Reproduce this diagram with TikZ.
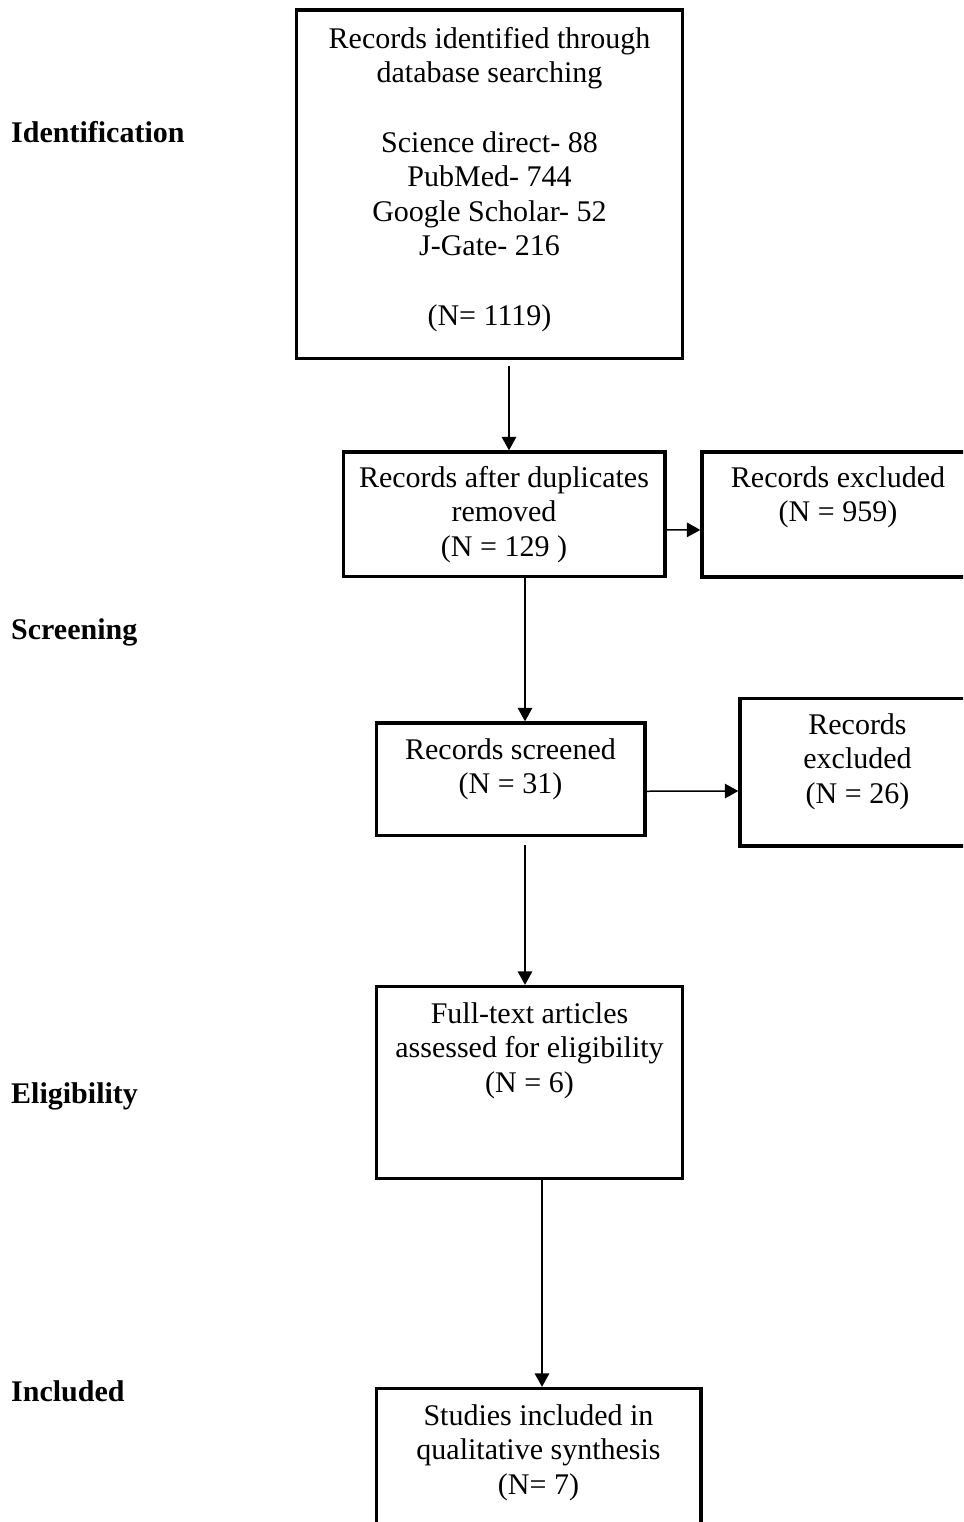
\documentclass[tikz,border=0pt]{standalone}
\usepackage{fontspec}
\setmainfont{Liberation Serif}
\usetikzlibrary{arrows.meta}

\begin{document}
\begin{tikzpicture}[x=1pt, y=-1pt,
    box/.style={draw, line width=3.3pt, inner sep=0pt},
    boxtext/.style={anchor=base, align=center, inner sep=0pt, font=\fontsize{30}{34.5}\selectfont},
    stage/.style={anchor=base west, inner sep=0pt, font=\fontsize{30}{34.5}\selectfont\bfseries},
    flow/.style={line width=1.5pt, -{Triangle[length=13.5pt, width=14.5pt]}}]
    \useasboundingbox (0,0) rectangle (963,1522);
    \clip (0,0) rectangle (963,1522);
    % stages
    \node[stage] (identification) at (11,143) {Identification};
    \node[stage] (screening) at (11,639) {Screening};
    \node[stage] (eligibility) at (11,1103) {Eligibility};
    \node[stage] (included) at (11,1401) {Included};
    % boxes
    \node[box, minimum width=386pt, minimum height=348.5pt] (records) at (489.5,184.25) {};
    \node[box, minimum width=321.5pt, minimum height=124.5pt] (duplicates) at (504.25,514.25) {};
    \node[box, minimum width=272pt, minimum height=125pt] (excludeda) at (838,514.5) {};
    \node[box, minimum width=268.5pt, minimum height=112.5pt] (screened) at (510.75,779.25) {};
    \node[box, minimum width=235pt, minimum height=147.5pt] (excludedb) at (857.5,772.25) {};
    \node[box, minimum width=306pt, minimum height=192pt] (fulltext) at (529.5,1082.5) {};
    \node[box, minimum width=324.5pt, minimum height=171.5pt] (studies) at (538.75,1474.25) {};
    % box texts (placed at the baseline of their last line)
    \node[boxtext] (recordstext) at (489.5,325) {Records identified through\\ database searching\\[35pt]
        Science direct- 88\\ PubMed- 744\\ Google Scholar- 52\\ J-Gate- 216\\[35pt] (N= 1119)};
    \node[boxtext] (duplicatestext) at (504,556) {Records after duplicates\\ removed\\ (N = 129 )};
    \node[boxtext] (excludedatext) at (838,521.5) {Records excluded\\ (N = 959)};
    \node[boxtext] (screenedtext) at (510.5,793.5) {Records screened\\ (N = 31)};
    \node[boxtext] (excludedbtext) at (857.5,803) {Records\\ excluded\\ (N = 26)};
    \node[boxtext] (fulltexttext) at (529.5,1092) {Full-text articles\\ assessed for eligibility\\ (N = 6)};
    \node[boxtext] (studiestext) at (538.5,1494) {Studies included in\\ qualitative synthesis\\ (N= 7)};
    % arrows
    \draw[flow] ([xshift=19.5pt, yshift=-6pt]records.south) -- ([xshift=4.75pt]duplicates.north);
    \draw[flow] ([xshift=20.75pt]duplicates.south) -- ([xshift=14.25pt]screened.north);
    \draw[flow] ([xshift=14.25pt, yshift=-7.5pt]screened.south) -- ([xshift=-4.5pt]fulltext.north);
    \draw[flow] ([xshift=12.5pt]fulltext.south) -- ([xshift=3.25pt]studies.north);
    \draw[flow] ([yshift=-15.5pt]duplicates.east) -- ([yshift=-15.5pt]excludeda.west);
    \draw[flow] ([yshift=-12pt]screened.east) -- ([yshift=-18.75pt]excludedb.west);
\end{tikzpicture}
\end{document}
